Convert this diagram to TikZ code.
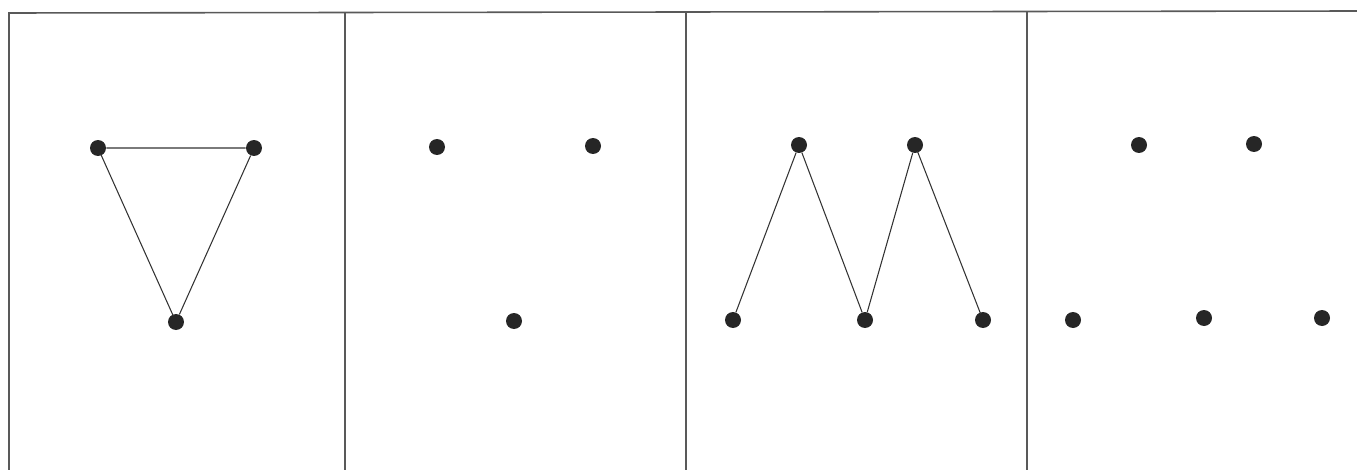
\documentclass[tikz,border=0pt]{standalone}
\usepackage{tikz}
\usetikzlibrary{positioning}

\begin{document}
\begin{tikzpicture}[
  x=0.02cm, y=-0.02cm,
  pt/.style={
    circle, fill=black!85, draw=none, minimum size=0.32cm, inner sep=0pt
  },
  frm/.style={line width=0.9pt, color=black!65},
  edg/.style={line width=0.6pt, color=black!80, shorten <=-1pt, shorten >=-1pt}
]
\useasboundingbox (0,0) rectangle (1357,470);

% Panel frames: top rule, left rule and separators
\coordinate (tl) at (9,13);
\coordinate (tr) at (1357,11);
\draw[frm] (tl) -- (tr);
\foreach \x in {9, 345, 686, 1027} {
  \draw[frm] (\x,12) -- (\x,470);
}

% Panel 1: triangle
\node[pt] (a1) at (98,148) {};
\node[pt] (a2) at (254,148) {};
\node[pt] (a3) at (176,322) {};
\draw[edg] (a1) -- (a2) -- (a3) -- (a1);

% Panel 2: three points
\node[pt] (b1) at (437,147) {};
\node[pt] (b2) at (593,146) {};
\node[pt] (b3) at (514,321) {};

% Panel 3: zigzag
\node[pt] (c1) at (733,320) {};
\node[pt] (c2) at (799,145) {};
\node[pt] (c3) at (865,320) {};
\node[pt] (c4) at (915,145) {};
\node[pt] (c5) at (983,320) {};
\draw[edg] (c1) -- (c2) -- (c3) -- (c4) -- (c5);

% Panel 4: five points
\node[pt] (d1) at (1139,145) {};
\node[pt] (d2) at (1254,144) {};
\node[pt] (d3) at (1073,320) {};
\node[pt] (d4) at (1204,318) {};
\node[pt] (d5) at (1322,318) {};

\end{tikzpicture}
\end{document}
